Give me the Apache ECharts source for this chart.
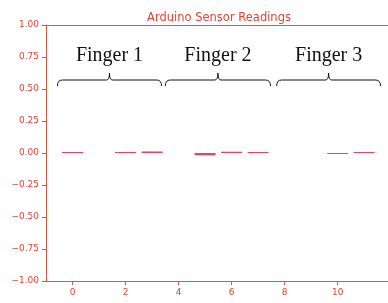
<!DOCTYPE html>
<html>
<head>
<meta charset="utf-8">
<script src="https://cdn.jsdelivr.net/npm/echarts@6/dist/echarts.min.js"></script>
<style>
  html, body { margin: 0; padding: 0; background: #fff; }
  #chart { width: 388px; height: 303px; }
</style>
</head>
<body>
<div id="chart"></div>
<script>
// sensor index -> reading (null = no bar drawn)
const sensorIdx = [0, 1, 2, 3, 4, 5, 6, 7, 8, 9, 10, 11]
const readings = [0.003, null, 0.003, 0.012, null, -0.018, 0.01, 0.004, null, null, -0.004, 0.007]
const xTicks = [0, 2, 4, 6, 8, 10]
const yTicks = [-1, -0.75, -0.5, -0.25, 0, 0.25, 0.5, 0.75, 1]
// finger groups: brace span in x data units + label
const fingerNames = ['Finger 1', 'Finger 2', 'Finger 3']
const fingerStart = [-0.57, 3.5, 7.7]
const fingerEnd = [3.36, 7.47, 11.62]

const red = '#dd4535'
const axisRed = '#cc5a45'

const chart = echarts.init(document.getElementById('chart'))

function fmtY(v) {
  return v.toFixed(2).replace('-', '\u2212')
}

chart.setOption({
  animation: false,
  title: {
    text: 'Arduino Sensor Readings',
    left: 214,
    top: 7,
    textAlign: 'center',
    textStyle: { color: red, fontSize: 11.5, fontWeight: 'normal', fontFamily: 'DejaVu Sans' }
  },
  grid: { left: 46, right: 0, top: 25, bottom: 22 },
  xAxis: [{
    type: 'value',
    min: -1,
    max: 11.9,
    splitLine: { show: false },
    axisLine: { show: true, onZero: false, lineStyle: { color: axisRed } },
    axisTick: { show: true, length: 4, customValues: xTicks, lineStyle: { color: axisRed } },
    axisLabel: { customValues: xTicks, color: red, fontSize: 9, fontFamily: 'DejaVu Sans', margin: 7 }
  }, {
    type: 'value',
    position: 'top',
    min: -1,
    max: 11.9,
    splitLine: { show: false },
    axisLine: { show: true, onZero: false, lineStyle: { color: axisRed } },
    axisTick: { show: false },
    axisLabel: { show: false }
  }],
  yAxis: {
    type: 'value',
    min: -1,
    max: 1,
    interval: 0.25,
    splitLine: { show: false },
    axisLine: { show: true, onZero: false, lineStyle: { color: axisRed } },
    axisTick: { show: true, length: 4, customValues: yTicks, lineStyle: { color: axisRed } },
    axisLabel: { customValues: yTicks, color: red, fontSize: 9, fontFamily: 'DejaVu Sans', margin: 7, formatter: fmtY }
  },
  series: [{
    type: 'bar',
    data: sensorIdx.map((x, i) => [x, readings[i]]),
    barWidth: 21,
    barMinHeight: 1,
    itemStyle: { color: '#e2446c' }
  }, {
    type: 'custom',
    z: 10,
    silent: true,
    data: fingerNames.map((n, i) => [fingerStart[i], fingerEnd[i]]),
    encode: { x: [0, 1] },
    renderItem(params, api) {
      const x0 = api.coord([api.value(0), 0])[0]
      const x1 = api.coord([api.value(1), 0])[0]
      const xc = (x0 + x1) / 2
      const top = params.coordSys.y
      const yh = top + 55
      const ye = top + 61
      const yt = top + 48
      const path = 'M' + x0 + ',' + ye + ' Q' + x0 + ',' + yh + ' ' + (x0 + 5) + ',' + yh +
        ' L' + (xc - 3) + ',' + yh + ' Q' + xc + ',' + yh + ' ' + xc + ',' + yt +
        ' Q' + xc + ',' + yh + ' ' + (xc + 3) + ',' + yh +
        ' L' + (x1 - 5) + ',' + yh + ' Q' + x1 + ',' + yh + ' ' + x1 + ',' + ye
      return {
        type: 'group',
        children: [{
          type: 'path',
          shape: { pathData: path },
          style: { fill: null, stroke: '#111', lineWidth: 1 }
        }, {
          type: 'text',
          x: xc,
          y: top + 31,
          style: {
            text: fingerNames[params.dataIndex],
            fill: '#111',
            font: '20px "Liberation Serif", serif',
            align: 'center',
            verticalAlign: 'middle'
          }
        }]
      }
    }
  }]
})
</script>
</body>
</html>
